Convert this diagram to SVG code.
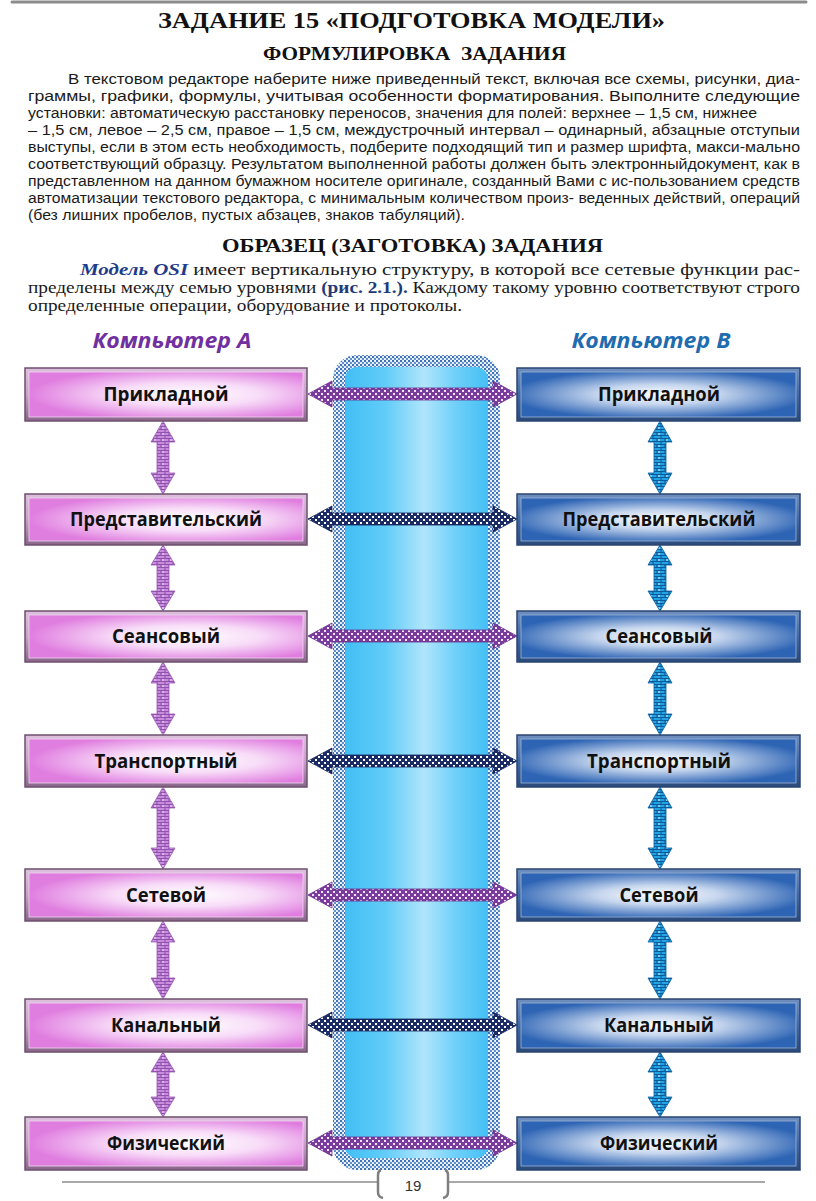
<svg xmlns="http://www.w3.org/2000/svg" width="816" height="1201" viewBox="0 0 816 1201">
<style>
.h{font-family:"Liberation Serif","Times New Roman",serif;font-weight:bold;fill:#111}
.p{font-family:"Liberation Sans",Arial,sans-serif;font-size:15.5px;fill:#1a1a1a}
.s{font-family:"Liberation Serif","Times New Roman",serif;font-size:17.5px;fill:#1a1a1a}
.b{font-weight:bold;font-style:italic;fill:#1F3C8A}
.r{font-weight:bold;fill:#1F3A7A}
.cap{font-family:"Open Sans","Noto Sans",sans-serif;font-weight:bold;font-style:italic;font-size:21px}
.lab{font-family:"Open Sans","Noto Sans",sans-serif;font-weight:bold;font-size:19.5px;fill:#111;text-anchor:middle}
.lfr{fill:url(#bevL);stroke:#6E506E;stroke-width:1.5}
.lin{fill:url(#gL);stroke:#F0D8F0;stroke-width:0.8}
.rfr{fill:url(#bevR);stroke:#2A4670;stroke-width:1.5}
.rin{fill:url(#gR);stroke:#9DB6D8;stroke-width:0.8}
.va{fill:url(#pPV);stroke:#9A5AB5;stroke-width:0.8}
.vb{fill:url(#pBV);stroke:#0B5E9E;stroke-width:0.8}
.hp{fill:url(#pPH);stroke:#6A2E8C;stroke-width:0.8}
.hn{fill:url(#pNH);stroke:#14245A;stroke-width:0.8}
</style>
<defs>
<linearGradient id="bevL" x1="0" y1="0" x2="0" y2="1">
<stop offset="0" stop-color="#DCC0DC"/><stop offset="0.5" stop-color="#C8A0C8"/><stop offset="1" stop-color="#8A668A"/>
</linearGradient>
<linearGradient id="bevR" x1="0" y1="0" x2="0" y2="1">
<stop offset="0" stop-color="#6F8FBF"/><stop offset="0.5" stop-color="#3F68A8"/><stop offset="1" stop-color="#2A4A7A"/>
</linearGradient>
<radialGradient id="gL" cx="0.58" cy="0.5" r="0.58">
<stop offset="0" stop-color="#FFFFFF"/><stop offset="0.45" stop-color="#F8DDF8"/><stop offset="1" stop-color="#E07EE0"/>
</radialGradient>
<radialGradient id="gR" cx="0.5" cy="0.5" r="0.55">
<stop offset="0" stop-color="#FFFFFF"/><stop offset="0.4" stop-color="#C6D6EE"/><stop offset="1" stop-color="#2D64B4"/>
</radialGradient>
<linearGradient id="gC" x1="0" y1="0" x2="1" y2="0">
<stop offset="0" stop-color="#3CBDF4"/><stop offset="0.3" stop-color="#62CCF8"/><stop offset="0.55" stop-color="#B0E5FC"/><stop offset="0.75" stop-color="#6FD0F9"/><stop offset="1" stop-color="#3CBDF4"/>
</linearGradient>
<pattern id="pPV" patternUnits="userSpaceOnUse" width="8" height="6">
<rect width="8" height="6" fill="#C88CDC"/>
<path d="M0 0.5H8M0 3.5H8M1 0.5V3.5M5 3.5V6.5" stroke="#8F50AE" stroke-width="1.1" fill="none"/>
<rect x="2" y="1.5" width="2" height="1" fill="#EED8F5"/>
</pattern>
<pattern id="pBV" patternUnits="userSpaceOnUse" width="8" height="6">
<rect width="8" height="6" fill="#23A2E4"/>
<path d="M0 0.5H8M0 3.5H8M1 0.5V3.5M5 3.5V6.5" stroke="#0C5B98" stroke-width="1.1" fill="none"/>
<rect x="2" y="1.5" width="2" height="1" fill="#D8F0FF"/>
</pattern>
<pattern id="pPH" patternUnits="userSpaceOnUse" width="6" height="6">
<rect width="6" height="6" fill="#7A3C9C"/>
<rect x="0" y="0" width="2" height="2" fill="#F2E4F8"/>
<rect x="3" y="3" width="2" height="2" fill="#F2E4F8"/>
</pattern>
<pattern id="pNH" patternUnits="userSpaceOnUse" width="6" height="6">
<rect width="6" height="6" fill="#1A2B66"/>
<rect x="0" y="0" width="2" height="2" fill="#FFFFFF"/>
<rect x="3" y="3" width="2" height="2" fill="#FFFFFF"/>
</pattern>
<pattern id="pD" patternUnits="userSpaceOnUse" width="4" height="4">
<rect width="4" height="4" fill="#F4FAFF"/>
<circle cx="1" cy="1" r="1.2" fill="#3A6CB4"/>
<circle cx="3" cy="3" r="1.2" fill="#5A8CCC"/>
</pattern>
</defs>

<rect width="816" height="1201" fill="#FFFFFF"/>
<line x1="12" y1="2" x2="806" y2="2" stroke="#8C8C8C" stroke-width="3" stroke-linecap="round"/>

<g id="header">
<text class="h" x="158" y="28" font-size="24" textLength="507" lengthAdjust="spacingAndGlyphs">ЗАДАНИЕ 15 «ПОДГОТОВКА МОДЕЛИ»</text>
<text class="h" x="263" y="60" font-size="19" textLength="303" lengthAdjust="spacingAndGlyphs" xml:space="preserve">ФОРМУЛИРОВКА  ЗАДАНИЯ</text>
<text class="p" x="68" y="84" textLength="732" lengthAdjust="spacingAndGlyphs">В текстовом редакторе наберите ниже приведенный текст, включая все схемы, рисунки, диа-</text>
<text class="p" x="28" y="101" textLength="772" lengthAdjust="spacingAndGlyphs">граммы, графики, формулы, учитывая особенности форматирования. Выполните следующие</text>
<text class="p" x="28" y="118" textLength="729" lengthAdjust="spacingAndGlyphs">установки: автоматическую расстановку переносов, значения для полей: верхнее – 1,5 см, нижнее</text>
<text class="p" x="28" y="135" textLength="772" lengthAdjust="spacingAndGlyphs">– 1,5 см, левое – 2,5 см, правое – 1,5 см, междустрочный интервал – одинарный, абзацные отступыи</text>
<text class="p" x="28" y="152" textLength="772" lengthAdjust="spacingAndGlyphs">выступы, если в этом есть необходимость, подберите подходящий тип и размер шрифта, макси-мально</text>
<text class="p" x="28" y="169" textLength="772" lengthAdjust="spacingAndGlyphs">соответствующий образцу. Результатом выполненной работы должен быть электронныйдокумент, как в</text>
<text class="p" x="28" y="186" textLength="772" lengthAdjust="spacingAndGlyphs">представленном на данном бумажном носителе оригинале, созданный Вами с ис-пользованием средств</text>
<text class="p" x="28" y="203" textLength="772" lengthAdjust="spacingAndGlyphs">автоматизации текстового редактора, с минимальным количеством произ- веденных действий, операций</text>
<text class="p" x="28" y="220" textLength="437" lengthAdjust="spacingAndGlyphs">(без лишних пробелов, пустых абзацев, знаков табуляций).</text>
<text class="h" x="222" y="252" font-size="19" textLength="381" lengthAdjust="spacingAndGlyphs">ОБРАЗЕЦ (ЗАГОТОВКА) ЗАДАНИЯ</text>
<text class="s" x="80" y="275" textLength="720" lengthAdjust="spacingAndGlyphs"><tspan class="b">Модель OSI</tspan> имеет вертикальную структуру, в которой все сетевые функции рас-</text>
<text class="s" x="28" y="293" textLength="772" lengthAdjust="spacingAndGlyphs">пределены между семью уровнями <tspan class="r">(рис. 2.1.).</tspan> Каждому такому уровню соответствуют строго</text>
<text class="s" x="28" y="311" textLength="434" lengthAdjust="spacingAndGlyphs">определенные операции, оборудование и протоколы.</text>
</g>

<g id="column">
<rect x="339" y="361" width="155" height="803" rx="18" fill="url(#gC)" stroke="url(#pD)" stroke-width="12"/>
</g>

<text class="cap" x="172" y="348" fill="#7030A0" text-anchor="middle" textLength="159" lengthAdjust="spacingAndGlyphs">Компьютер А</text>
<text class="cap" x="651" y="348" fill="#1F6CB0" text-anchor="middle" textLength="159" lengthAdjust="spacingAndGlyphs">Компьютер В</text>

<g id="connectors">
<path class="va" d="M163 421 L175 442 L169 442 L169 473 L175 473 L163 494 L151 473 L157 473 L157 442 L151 442 Z"/>
<path class="va" d="M163 545 L175 565 L169 565 L169 591 L175 591 L163 611 L151 591 L157 591 L157 565 L151 565 Z"/>
<path class="va" d="M163 662 L175 683 L169 683 L169 714 L175 714 L163 735 L151 714 L157 714 L157 683 L151 683 Z"/>
<path class="va" d="M163 787 L175 808 L169 808 L169 848 L175 848 L163 869 L151 848 L157 848 L157 808 L151 808 Z"/>
<path class="va" d="M163 921 L175 942 L169 942 L169 978 L175 978 L163 999 L151 978 L157 978 L157 942 L151 942 Z"/>
<path class="va" d="M163 1052 L175 1072 L169 1072 L169 1097 L175 1097 L163 1117 L151 1097 L157 1097 L157 1072 L151 1072 Z"/>
<path class="vb" d="M660 421 L672 442 L666 442 L666 473 L672 473 L660 494 L648 473 L654 473 L654 442 L648 442 Z"/>
<path class="vb" d="M660 545 L672 565 L666 565 L666 591 L672 591 L660 611 L648 591 L654 591 L654 565 L648 565 Z"/>
<path class="vb" d="M660 662 L672 683 L666 683 L666 714 L672 714 L660 735 L648 714 L654 714 L654 683 L648 683 Z"/>
<path class="vb" d="M660 787 L672 808 L666 808 L666 848 L672 848 L660 869 L648 848 L654 848 L654 808 L648 808 Z"/>
<path class="vb" d="M660 921 L672 942 L666 942 L666 978 L672 978 L660 999 L648 978 L654 978 L654 942 L648 942 Z"/>
<path class="vb" d="M660 1052 L672 1072 L666 1072 L666 1097 L672 1097 L660 1117 L648 1097 L654 1097 L654 1072 L648 1072 Z"/>
<path class="hp" d="M308 394 L332 381 L332 388 L493 388 L493 381 L517 394 L493 407 L493 400 L332 400 L332 407 Z"/>
<path class="hn" d="M308 519 L332 506 L332 513 L493 513 L493 506 L517 519 L493 532 L493 525 L332 525 L332 532 Z"/>
<path class="hp" d="M308 636 L332 623 L332 630 L493 630 L493 623 L517 636 L493 649 L493 642 L332 642 L332 649 Z"/>
<path class="hn" d="M308 761 L332 748 L332 755 L493 755 L493 748 L517 761 L493 774 L493 767 L332 767 L332 774 Z"/>
<path class="hp" d="M308 895 L332 882 L332 889 L493 889 L493 882 L517 895 L493 908 L493 901 L332 901 L332 908 Z"/>
<path class="hn" d="M308 1025 L332 1012 L332 1019 L493 1019 L493 1012 L517 1025 L493 1038 L493 1031 L332 1031 L332 1038 Z"/>
<path class="hp" d="M308 1143 L332 1130 L332 1137 L493 1137 L493 1130 L517 1143 L493 1156 L493 1149 L332 1149 L332 1156 Z"/>
</g>

<g id="a1"><rect class="lfr" x="25" y="368" width="282" height="53"/><rect class="lin" x="29" y="372" width="274" height="45"/><text class="lab" x="166" y="401" textLength="125" lengthAdjust="spacingAndGlyphs">Прикладной</text></g>
<g id="a2"><rect class="lfr" x="25" y="494" width="282" height="51"/><rect class="lin" x="29" y="498" width="274" height="43"/><text class="lab" x="166" y="526" textLength="192" lengthAdjust="spacingAndGlyphs">Представительский</text></g>
<g id="a3"><rect class="lfr" x="25" y="611" width="282" height="51"/><rect class="lin" x="29" y="615" width="274" height="43"/><text class="lab" x="166" y="643" textLength="108" lengthAdjust="spacingAndGlyphs">Сеансовый</text></g>
<g id="a4"><rect class="lfr" x="25" y="735" width="282" height="52"/><rect class="lin" x="29" y="739" width="274" height="44"/><text class="lab" x="166" y="768" textLength="143" lengthAdjust="spacingAndGlyphs">Транспортный</text></g>
<g id="a5"><rect class="lfr" x="25" y="869" width="282" height="52"/><rect class="lin" x="29" y="873" width="274" height="44"/><text class="lab" x="166" y="902" textLength="80" lengthAdjust="spacingAndGlyphs">Сетевой</text></g>
<g id="a6"><rect class="lfr" x="25" y="999" width="282" height="53"/><rect class="lin" x="29" y="1003" width="274" height="45"/><text class="lab" x="166" y="1032" textLength="110" lengthAdjust="spacingAndGlyphs">Канальный</text></g>
<g id="a7"><rect class="lfr" x="25" y="1117" width="282" height="53"/><rect class="lin" x="29" y="1121" width="274" height="45"/><text class="lab" x="166" y="1150" textLength="118" lengthAdjust="spacingAndGlyphs">Физический</text></g>

<g id="b1"><rect class="rfr" x="517" y="368" width="283" height="53"/><rect class="rin" x="521" y="372" width="275" height="45"/><text class="lab" x="659" y="401" textLength="122" lengthAdjust="spacingAndGlyphs">Прикладной</text></g>
<g id="b2"><rect class="rfr" x="517" y="494" width="283" height="51"/><rect class="rin" x="521" y="498" width="275" height="43"/><text class="lab" x="659" y="526" textLength="193" lengthAdjust="spacingAndGlyphs">Представительский</text></g>
<g id="b3"><rect class="rfr" x="517" y="611" width="283" height="51"/><rect class="rin" x="521" y="615" width="275" height="43"/><text class="lab" x="659" y="643" textLength="107" lengthAdjust="spacingAndGlyphs">Сеансовый</text></g>
<g id="b4"><rect class="rfr" x="517" y="735" width="283" height="52"/><rect class="rin" x="521" y="739" width="275" height="44"/><text class="lab" x="659" y="768" textLength="144" lengthAdjust="spacingAndGlyphs">Транспортный</text></g>
<g id="b5"><rect class="rfr" x="517" y="869" width="283" height="52"/><rect class="rin" x="521" y="873" width="275" height="44"/><text class="lab" x="659" y="902" textLength="79" lengthAdjust="spacingAndGlyphs">Сетевой</text></g>
<g id="b6"><rect class="rfr" x="517" y="999" width="283" height="53"/><rect class="rin" x="521" y="1003" width="275" height="45"/><text class="lab" x="659" y="1032" textLength="110" lengthAdjust="spacingAndGlyphs">Канальный</text></g>
<g id="b7"><rect class="rfr" x="517" y="1117" width="283" height="53"/><rect class="rin" x="521" y="1121" width="275" height="45"/><text class="lab" x="659" y="1150" textLength="118" lengthAdjust="spacingAndGlyphs">Физический</text></g>

<g id="footer">
<line x1="62" y1="1182" x2="378" y2="1182" stroke="#8C8C8C" stroke-width="1.5"/>
<line x1="448" y1="1182" x2="765" y2="1182" stroke="#8C8C8C" stroke-width="1.5"/>
<path d="M381 1170 Q378 1171 378 1175 L378 1192 Q378 1197 383 1198" fill="none" stroke="#7F7F7F" stroke-width="2.5"/>
<path d="M445 1170 Q448 1171 448 1175 L448 1192 Q448 1197 443 1198" fill="none" stroke="#7F7F7F" stroke-width="2.5"/>
<text x="413" y="1191" font-family="Liberation Sans, Arial, sans-serif" font-size="15" fill="#333" text-anchor="middle">19</text>
</g>
</svg>
